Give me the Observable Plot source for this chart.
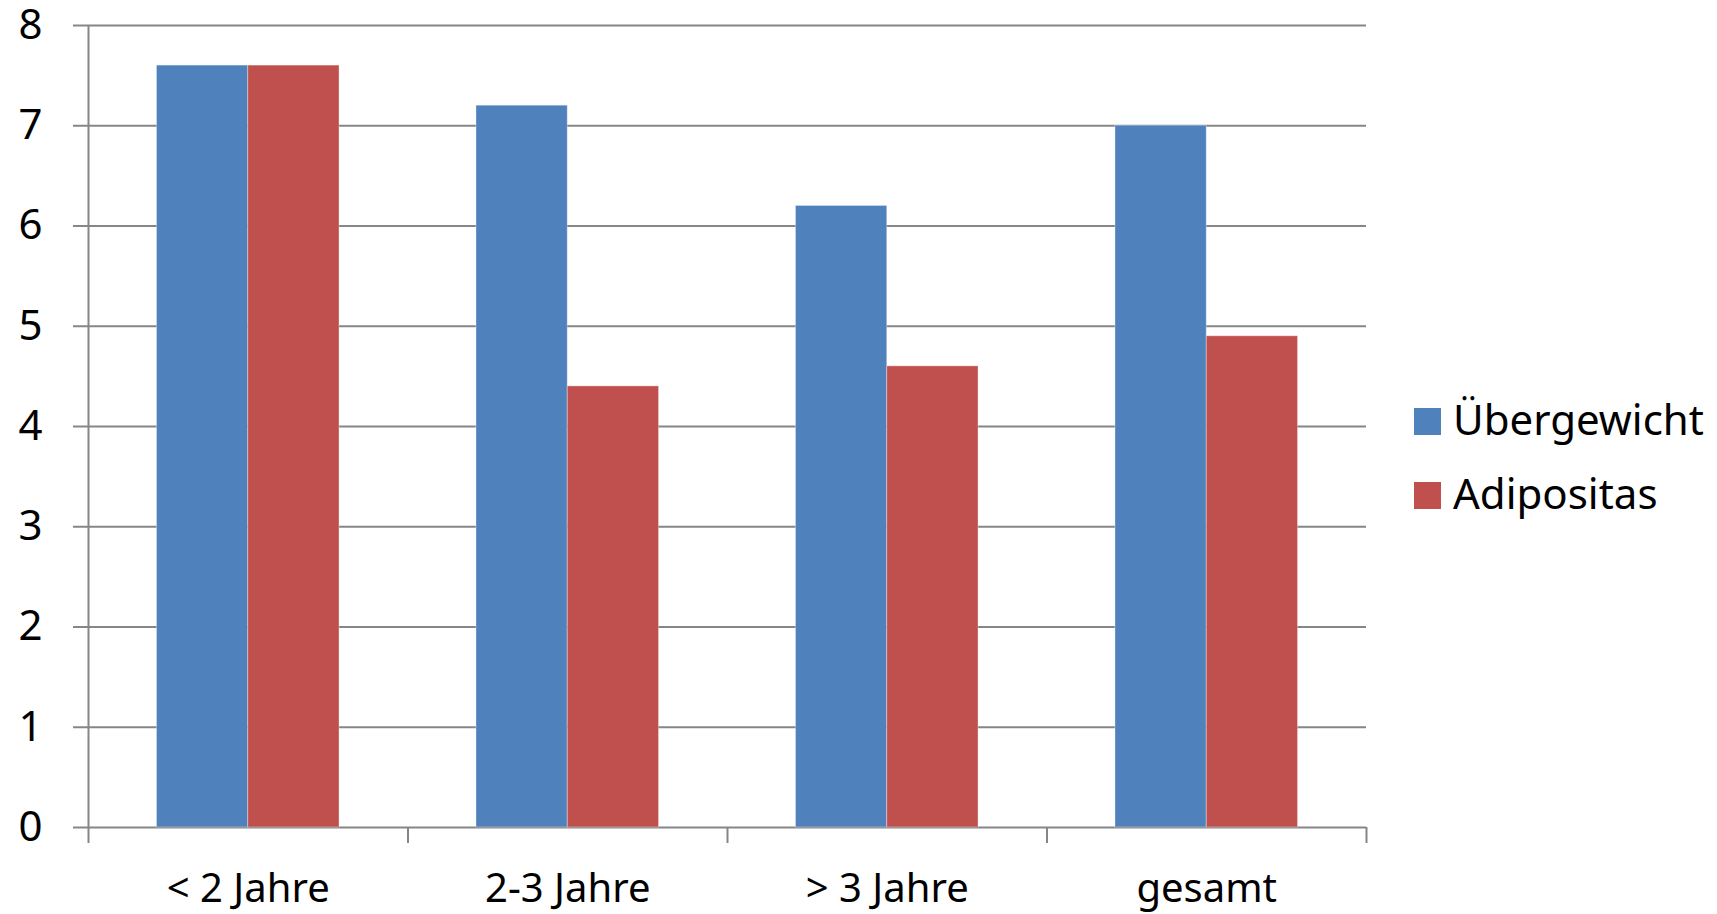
<!DOCTYPE html>
<html><head><meta charset="utf-8">
<script src="https://cdn.jsdelivr.net/npm/d3@7"></script>
<script src="https://cdn.jsdelivr.net/npm/@observablehq/plot@0.6"></script>
<style>
body{margin:0;background:#fff;font-family:"Noto Sans",sans-serif;color:#000;}
#wrap{position:relative;width:1717px;height:914px;}
.sw{position:absolute;width:27px;height:27px;}
.lt{position:absolute;font-size:42px;line-height:normal;white-space:nowrap;}
</style></head><body><div id="wrap"></div>
<script>
const categories = ["< 2 Jahre", "2-3 Jahre", "> 3 Jahre", "gesamt"];
const series = ["Übergewicht", "Adipositas"];
const uebergewicht = [7.6, 7.2, 6.2, 7.0];
const adipositas = [7.6, 4.4, 4.6, 4.9];
const colors = ["#4F81BD", "#C0504D"];
const yTicks = [0, 1, 2, 3, 4, 5, 6, 7, 8];

const gridColor = "#868686";
const bw = 1 / 3.5; // bar width as fraction of a category band (gap 150%)
const seriesValues = [uebergewicht, adipositas];
const data = categories.flatMap((c, i) => series.map((s, k) => ({cat: c, i, k, s, v: seriesValues[k][i]})));
const boundaries = d3.range(categories.length + 1);
const centers = categories.map((c, i) => i + 0.5);

const chart = Plot.plot({
  width: 1717, height: 914,
  marginLeft: 88, marginRight: 351, marginTop: 25, marginBottom: 87,
  style: {fontFamily: "Noto Sans", color: "#000", background: "#fff", overflow: "visible"},
  x: {type: "linear", domain: [0, categories.length]},
  y: {domain: [0, 8]},
  color: {domain: series, range: colors},
  marks: [
    Plot.gridY(yTicks, {stroke: gridColor, strokeOpacity: 1, strokeWidth: 2}),
    Plot.ruleX([0], {y1: 0, y2: 8, stroke: gridColor, strokeWidth: 2}),
    Plot.axisY(yTicks, {tickSize: 15, tickPadding: 31, fontSize: 42, stroke: gridColor, strokeWidth: 2, fill: "#000", tickFormat: d => d, label: null}),
    Plot.axisX(boundaries, {tickSize: 16, tickFormat: () => "", stroke: gridColor, strokeWidth: 2, label: null}),
    Plot.axisX(centers, {tickSize: 0, tickPadding: 46, fontSize: 40, fill: "#000", tickFormat: d => categories[Math.floor(d)], label: null}),
    Plot.rectY(data, {
      x1: d => d.i + 0.5 - bw + d.k * bw,
      x2: d => d.i + 0.5 + d.k * bw,
      y: "v", fill: "s", stroke: "#fff", strokeOpacity: 0.35, strokeWidth: 1
    })
  ]
});
const wrap = document.getElementById("wrap");
wrap.appendChild(chart);
series.forEach((s, k) => {
  const sq = document.createElement("div");
  sq.className = "sw";
  sq.style.left = "1414px";
  sq.style.top = (408 + 74 * k) + "px";
  sq.style.background = colors[k];
  wrap.appendChild(sq);
  const t = document.createElement("div");
  t.className = "lt";
  t.style.left = "1453px";
  t.style.top = (390 + 74 * k) + "px";
  t.textContent = s;
  wrap.appendChild(t);
});
</script></body></html>
